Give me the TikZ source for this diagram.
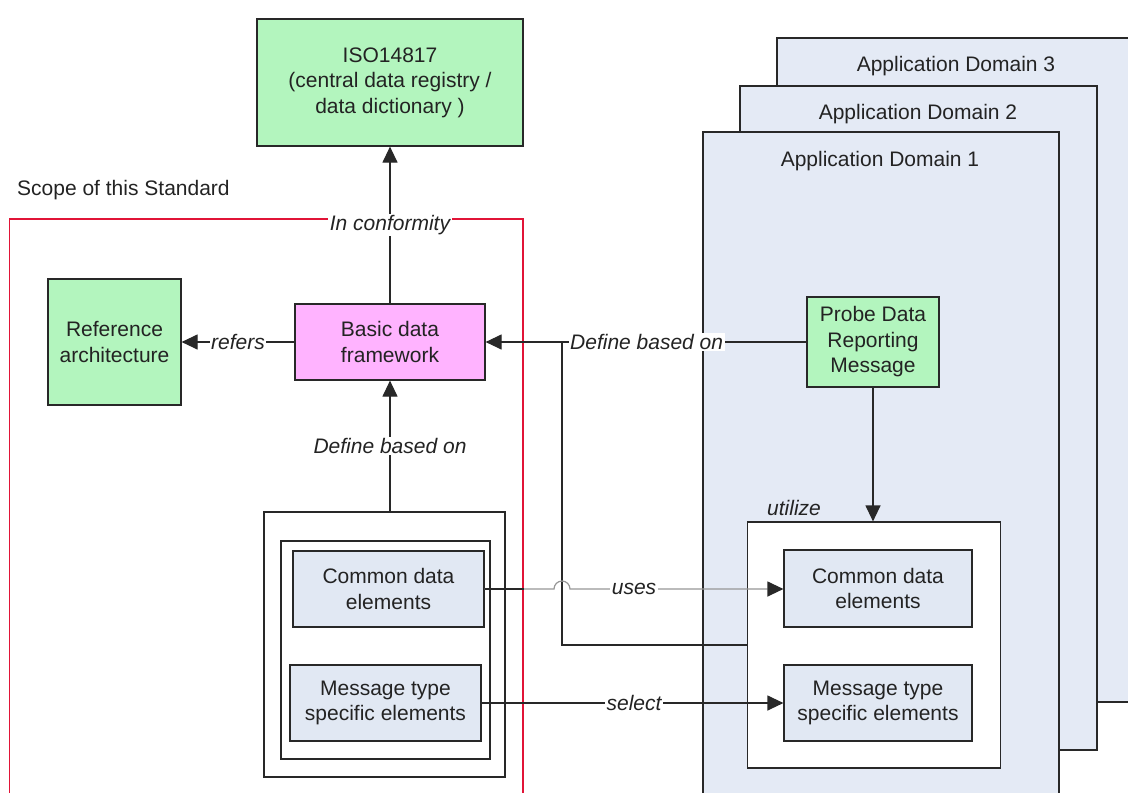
\documentclass[tikz,border=0pt]{standalone}
\usepackage{fontspec}
\setmainfont{Liberation Sans}
\usetikzlibrary{arrows.meta,calc}
\definecolor{dom}{RGB}{228,234,245}
\definecolor{grn}{RGB}{179,245,190}
\definecolor{pnk}{RGB}{255,179,255}
\definecolor{elem}{RGB}{225,232,243}
\definecolor{ln}{RGB}{40,40,40}
\definecolor{usegray}{RGB}{150,150,150}
\definecolor{scopered}{RGB}{225,20,55}
\definecolor{txt}{RGB}{35,35,35}
\begin{document}
\begin{tikzpicture}[x=1pt,y=-1pt,
  every node/.style={font=\fontsize{21}{25.5}\selectfont, text=txt},
  box/.style={draw=ln, line width=1.2pt, inner sep=0pt, align=center},
  lab/.style={font=\fontsize{21}{25.5}\selectfont\itshape, fill=white, inner sep=1.5pt},
  conn/.style={draw=ln, line width=1.2pt},
  arr/.style={conn, -{Triangle[length=16pt,width=15pt]}},
  domainbox/.style={draw=ln, line width=1.2pt, fill=dom},
]
\path[use as bounding box] (0,0) rectangle (1128,793);
\clip (0,0) rectangle (1128,793);

% application domains
\draw[domainbox] (777,38) rectangle (1140,702);
\node (d3) at (956,66) {Application Domain 3};
\draw[domainbox] (740,86) rectangle (1097,750);
\node (d2) at (918,114) {Application Domain 2};
\draw[domainbox] (703,132) rectangle (1059,810);
\node (d1) at (880,161) {Application Domain 1};

% scope
\draw[draw=scopered, line width=1.3pt] (9.6,219) rectangle (523,810);
\node[anchor=west, inner sep=0pt] (scopet) at (17,190) {Scope of this Standard};

% nodes
\node[box, fill=grn, minimum width=266pt, minimum height=127pt] (iso) at (390,82.5) {ISO14817\\(central data registry /\\data dictionary )};
\node[box, fill=grn, minimum width=133pt, minimum height=126pt] (ref) at (114.5,342) {Reference\\architecture};
\node[box, fill=pnk, minimum width=190pt, minimum height=76pt] (basic) at (390,342) {Basic data\\framework};
\node[box, fill=grn, minimum width=132pt, minimum height=90pt] (probe) at (873,342) {Probe Data\\Reporting\\Message};

\node[box, fill=white, minimum width=241pt, minimum height=265pt] (outerL) at (384.5,644.5) {};
\node[box, fill=white, minimum width=209pt, minimum height=218pt] (innerL) at (385.5,650) {};
\node[box, fill=elem, minimum width=191pt, minimum height=76pt] (comL) at (388.5,589) {Common data\\elements};
\node[box, fill=elem, minimum width=191pt, minimum height=76pt] (msgL) at (385.5,703) {Message type\\specific elements};

\node[box, fill=white, minimum width=253pt, minimum height=246pt] (util) at (874,645) {};
\node[box, fill=elem, minimum width=188pt, minimum height=77pt] (comR) at (878,588.5) {Common data\\elements};
\node[box, fill=elem, minimum width=188pt, minimum height=76pt] (msgR) at (878,703) {Message type\\specific elements};
\node[font=\fontsize{21}{25.5}\selectfont\itshape, inner sep=0pt] (utl) at (794,508) {utilize};

% connectors
\draw[arr] (basic) -- node[lab, pos=0.5] (conf) {In conformity} (iso);
\draw[arr] (basic) -- node[lab] (refl) {refers} (ref);
\draw[arr] (outerL.north -| basic) -- node[lab] (dbo1) {Define based on} (basic.south);
\coordinate (j) at (562,342);
\draw[conn] (util.west) -| (j);
\draw[arr] (probe) -- node[lab, pos=0.498] (dbo2) {Define based on} (basic);
\draw[arr] (probe.south) -- (probe.south |- util.north);

\draw[draw=usegray, line width=1.2pt, -{Triangle[length=16pt,width=15pt,color=ln]}]
  (comL.east) -- ($(comL.east -| j)+(-8,0)$) arc[start angle=180, end angle=0, radius=8pt]
  -- node[lab, pos=0.3] (usesl) {uses} (comL.east -| comR.west);
\draw[conn] (comL.east) -- ++(39,0);
\draw[arr] (msgL) -- node[lab, pos=0.505] (sel) {select} (msgR);
\end{tikzpicture}
\end{document}
